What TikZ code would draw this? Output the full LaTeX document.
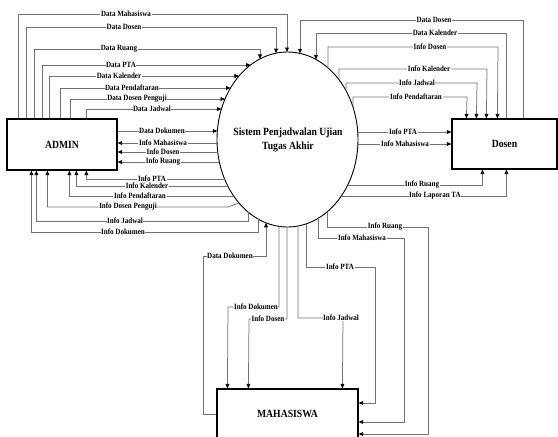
\documentclass[tikz,border=0pt]{standalone}
\usepackage{fontspec}
\setmainfont{Liberation Serif}[FakeStretch=0.88]
\usetikzlibrary{arrows.meta,shapes.geometric}
\definecolor{linec}{RGB}{115,115,115}
\newcommand\EL[2]{\coordinate (#1) at ({287.5-70.5*sqrt(1-((#2-139.5)/87.5)*((#2-139.5)/87.5))},#2);}
\newcommand\ER[2]{\coordinate (#1) at ({287.5+70.5*sqrt(1-((#2-139.5)/87.5)*((#2-139.5)/87.5))},#2);}
\newcommand\ET[2]{\coordinate (#1) at (#2,{139.5-87.5*sqrt(1-((#2-287.5)/70.5)*((#2-287.5)/70.5))});}
\newcommand\EB[2]{\coordinate (#1) at (#2,{139.5+87.5*sqrt(1-((#2-287.5)/70.5)*((#2-287.5)/70.5))});}
\begin{document}
\begin{tikzpicture}[x=1pt,y=-1pt,
  box/.style={draw=black,line width=1.2pt,rectangle,inner sep=0pt,font=\fontsize{11}{13}\selectfont\bfseries},
  flow/.style={draw=linec,line width=0.75pt,-{Triangle[length=4.5pt,width=3.8pt,color=black,fill=black]}},
  lbl/.style={fill=white,inner sep=0.6pt,font=\fontsize{8}{9}\selectfont\bfseries,text=black}]
\useasboundingbox (0,0) rectangle (558,437);
% main shapes
\node[box,minimum width=110pt,minimum height=51pt] (A) at (62,144.5) {ADMIN};
\node[box,minimum width=105pt,minimum height=50pt] (D) at (504.5,144) {Dosen};
\node[box,minimum width=141pt,minimum height=50pt] (M) at (287.5,414) {MAHASISWA};
\node[draw=black,ellipse,line width=0.9pt,minimum width=141pt,minimum height=175pt,inner sep=0pt] (E) at (287.5,139.5) {};
\node[align=center,font=\fontsize{11}{14}\selectfont\bfseries] (Et) at (288,140) {Sistem Penjadwalan Ujian\\Tugas Akhir};
% points on the ellipse
\EL{pA}{65}\EL{kA}{76}\EL{pdA}{88}\EL{dpA}{99}\EL{jA}{109}
\EL{ddA}{131}\EL{imA}{143}\EL{idA}{152}\EL{irA}{162}
\EL{iptA}{179}\EL{ikA}{186}\EL{ipdA}{196}\EL{idpA}{203}
\EB{ijA}{248}\EB{idkA}{258}
\ET{dmT}{287}\ET{ddT}{276}\ET{drT}{260}
\ET{ddR}{300}\ET{dkR}{316}\ET{idR}{328}\ET{ikR}{339}\ET{ijR}{346}\ET{ipR}{353}
\ER{iptR}{132}\ER{imR}{144}\ER{irR}{185}\ER{ilR}{196}
\EB{irM}{327}\EB{imM}{318}\EB{iptM}{306}\EB{ijM}{298}\EB{idM}{287}\EB{idkM}{279}\EB{ddM}{266}
% ADMIN -> system
\draw[flow] ([xshift=12]A.north west) |- (287,14) -- (dmT);
\draw[flow] ([xshift=20]A.north west) |- (276,27) -- (ddT);
\draw[flow] ([xshift=28]A.north west) |- (260,49) -- (drT);
\draw[flow] ([xshift=36]A.north west) |- (pA);
\draw[flow] ([xshift=43]A.north west) |- (kA);
\draw[flow] ([xshift=54]A.north west) |- (pdA);
\draw[flow] ([xshift=64]A.north west) |- (dpA);
\draw[flow] ([xshift=80]A.north west) |- (jA);
\draw[flow] (A.east |- ddA) -- (ddA);
\draw[flow] (imA) -- (imA -| A.east);
\draw[flow] (idA) -- (idA -| A.east);
\draw[flow] (irA) -- (irA -| A.east);
\draw[flow] (iptA) -| ([xshift=80]A.south west);
\draw[flow] (ikA) -| ([xshift=70]A.south west);
\draw[flow] (ipdA) -| ([xshift=63]A.south west);
\draw[flow] (idpA) -- (228,207) -| ([xshift=41]A.south west);
\draw[flow] (ijA) -- (248,221) -| ([xshift=30]A.south west);
\draw[flow] (idkA) -- (258,232) -| ([xshift=25]A.south west);
% Dosen
\draw[flow] ([xshift=72]D.north west) |- (300,20) -- (ddR);
\draw[flow] ([xshift=55]D.north west) |- (316,33) -- (dkR);
\draw[flow] (idR) |- (498,47) -- ([xshift=46]D.north west);
\draw[flow] (ikR) |- (487,69) -- ([xshift=35]D.north west);
\draw[flow] (ijR) |- (477,83) -- ([xshift=25]D.north west);
\draw[flow] (ipR) |- (467,97) -- ([xshift=15]D.north west);
\draw[flow] (iptR) -- (iptR -| D.west);
\draw[flow] (imR) -- (imR -| D.west);
\draw[flow] (irR) -| ([xshift=31]D.south west);
\draw[flow] (ilR) -| ([xshift=55]D.south west);
% Mahasiswa
\draw[flow] (irM) |- (428,227) |- ([yshift=-20]M.east);
\draw[flow] (imM) |- (404,238) |- ([yshift=-8]M.east);
\draw[flow] (iptM) |- (375,267) |- ([yshift=11]M.east);
\draw[flow] (ijM) |- (343,318) -- ([xshift=126]M.north west);
\draw[flow] (idM) |- (249,319) -- ([xshift=32]M.north west);
\draw[flow] (idkM) |- (228,307) -- ([xshift=11]M.north west);
\draw[flow] (M.west) -| (203,256) -| (ddM);
% labels
\node[lbl] (l1) at (126,14) {Data Mahasiswa};
\node[lbl] (l2) at (124,27) {Data Dosen};
\node[lbl] (l3) at (119,49) {Data Ruang};
\node[lbl] (l4) at (121,65) {Data PTA};
\node[lbl] (l5) at (119,76) {Data Kalender};
\node[lbl] (l6) at (132,88) {Data Pendaftaran};
\node[lbl] (l7) at (137,99) {Data Dosen Penguji};
\node[lbl] (l8) at (152,109) {Data Jadwal};
\node[lbl] (l9) at (162,131) {Data Dokumen};
\node[lbl] (l10) at (163,143) {Info Mahasiswa};
\node[lbl] (l11) at (163,152) {Info Dosen};
\node[lbl] (l12) at (163,162) {Info Ruang};
\node[lbl] (l13) at (152,179) {Info PTA};
\node[lbl] (l14) at (147,186) {Info Kalender};
\node[lbl] (l15) at (140,196) {Info Pendaftaran};
\node[lbl] (l16) at (128,207) {Info Dosen Penguji};
\node[lbl] (l17) at (125,221) {Info Jadwal};
\node[lbl] (l18) at (123,232) {Info Dokumen};
\node[lbl] (l19) at (434,20) {Data Dosen};
\node[lbl] (l20) at (435,33) {Data Kalender};
\node[lbl] (l21) at (430,47) {Info Dosen};
\node[lbl] (l22) at (429,69) {Info Kalender};
\node[lbl] (l23) at (417,83) {Info Jadwal};
\node[lbl] (l24) at (416,97) {Info Pendaftaran};
\node[lbl] (l25) at (403,132) {Info PTA};
\node[lbl] (l26) at (405,144) {Info Mahasiswa};
\node[lbl] (l27) at (422,185) {Info Ruang};
\node[lbl] (l28) at (435,196) {Info Laporan TA};
\node[lbl] (l29) at (385,227) {Info Ruang};
\node[lbl] (l30) at (362,238) {Info Mahasiswa};
\node[lbl] (l31) at (340,267) {Info PTA};
\node[lbl] (l32) at (341,318) {Info Jadwal};
\node[lbl] (l33) at (268,319) {Info Dosen};
\node[lbl] (l34) at (256,307) {Info Dokumen};
\node[lbl] (l35) at (230,256) {Data Dokumen};
\end{tikzpicture}
\end{document}
